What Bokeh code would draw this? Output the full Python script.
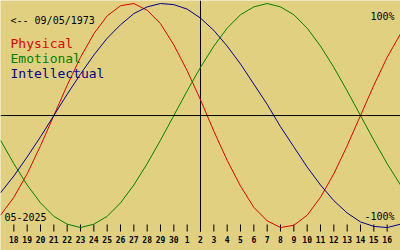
from bokeh.plotting import figure
from bokeh.models import Range1d, Span, Label, ColumnDataSource
from bokeh.core.properties import value
from bokeh.embed import file_html
from bokeh.resources import INLINE

# Day offsets relative to 2 May 2025 (centre line)
days = list(range(-15, 16))
physical = [-0.89, -0.73, -0.52, -0.27, 0.00, 0.27, 0.52, 0.73, 0.89, 0.98, 1.00,
            0.94, 0.82, 0.63, 0.40, 0.14, -0.14, -0.40, -0.63, -0.82, -0.94, -1.00,
            -0.98, -0.89, -0.73, -0.52, -0.27, 0.00, 0.27, 0.52, 0.73]
emotional = [-0.22, -0.43, -0.62, -0.78, -0.90, -0.97, -1.00, -0.97, -0.90, -0.78, -0.62,
             -0.43, -0.22, 0.00, 0.22, 0.43, 0.62, 0.78, 0.90, 0.97, 1.00,
             0.97, 0.90, 0.78, 0.62, 0.43, 0.22, 0.00, -0.22, -0.43, -0.62]
intellectual = [-0.69, -0.54, -0.37, -0.19, 0.00, 0.19, 0.37, 0.54, 0.69, 0.81, 0.91,
                0.97, 1.00, 0.99, 0.95, 0.87, 0.76, 0.62, 0.46, 0.28, 0.10,
                -0.10, -0.28, -0.46, -0.62, -0.76, -0.87, -0.95, -0.99, -1.00, -0.97]

tick_days = list(range(-14, 15))
tick_labels = ["18", "19", "20", "21", "22", "23", "24", "25", "26", "27", "28", "29", "30",
               "1", "2", "3", "4", "5", "6", "7", "8", "9", "10", "11", "12", "13", "14", "15", "16"]

BG = "#e0d080"
MONO = "DejaVu Sans Mono"

p = figure(width=400, height=250, output_backend="svg", toolbar_location=None,
           x_range=Range1d(-15, 15), y_range=Range1d(-1.205, 1.027),
           min_border=0, min_border_left=0, min_border_right=0,
           min_border_top=0, min_border_bottom=0)
p.axis.visible = False
p.grid.visible = False
p.outline_line_color = None
p.background_fill_color = BG
p.border_fill_color = BG

tick_top, tick_bot = -0.973, -1.036

# axes lines
p.add_layout(Span(location=0, dimension="width", line_color="black", line_width=1))
p.segment(x0=[0], y0=[1.027], x1=[0], y1=[tick_bot], line_color="black", line_width=1)

# tick marks, one segment glyph per day
for d in tick_days:
    p.segment(x0=[d], y0=[tick_top], x1=[d], y1=[tick_bot], line_color="black", line_width=1)

ts = ColumnDataSource(dict(x=tick_days, lab=tick_labels, yl=[-1.11] * len(tick_days)))
p.text(x="x", y="yl", text="lab", source=ts, text_font=value(MONO), text_font_size="8px",
       text_align="center", text_baseline="alphabetic", text_color="black",
       text_font_style="bold")

# curves
p.line(days, physical, line_color="#e00000", line_width=1)
p.line(days, emotional, line_color="#008000", line_width=1)
p.line(days, intellectual, line_color="#000090", line_width=1)

def lab(text, x, y, size, color="black", align="left"):
    p.add_layout(Label(x=x, y=y, x_units="screen", y_units="screen", text=text,
                       text_font=MONO, text_font_size=size, text_color=color,
                       text_align=align, text_baseline="alphabetic"))

lab("<-- 09/05/1973", 10, 230, "10px")
lab("Physical", 10, 207, "13px", "#e00000")
lab("Emotional", 10, 192, "13px", "#008000")
lab("Intellectual", 10, 177, "13px", "#000090")
lab("100%", 394, 234, "10px", align="right")
lab("-100%", 394, 34, "10px", align="right")
lab("05-2025", 4, 34, "10px")

open("out.html", "w").write(file_html(p, INLINE))
